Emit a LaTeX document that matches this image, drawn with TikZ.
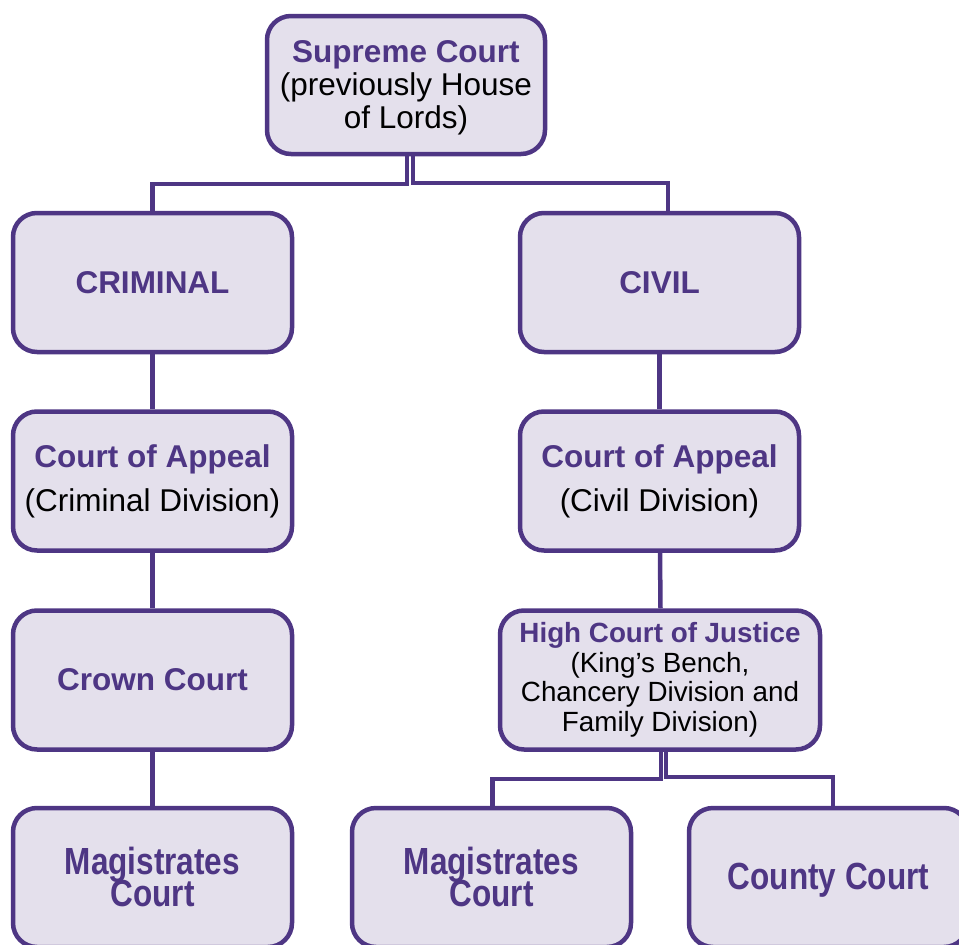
\documentclass[tikz,border=0pt]{standalone}
\usepackage{fontspec}
\setmainfont{Liberation Sans}
\definecolor{pur}{HTML}{4E3684}
\definecolor{lav}{HTML}{E4E0EC}
\begin{document}
\begin{tikzpicture}[x=1pt,y=-1pt,
  box/.style={draw=pur, fill=lav, line width=4.5pt, rounded corners=24pt,
    minimum width=279pt, minimum height=139pt, inner sep=0pt, align=center,
    font=\fontsize{31.5}{33}\selectfont},
  txt/.style={inner sep=0pt, align=center, font=\fontsize{31.5}{33}\selectfont},
  conn/.style={draw=pur, line width=4.5pt}]
\useasboundingbox (0,0) rectangle (959,945);
\clip (0,0) rectangle (959,945);
\newcommand{\hdt}[1]{{\color{pur}\bfseries #1}}
\newcommand{\tall}[1]{\scalebox{1}[1.2]{\color{pur}\bfseries\fontsize{31.5}{26}\selectfont\begin{tabular}{@{}c@{}}#1\end{tabular}}}

\node[box, minimum width=278pt, minimum height=138pt] (sup) at (406,85) {};
\node[txt] (supt) at (406,88) {\hdt{Supreme Court}\\(previously House\\of Lords)};
\node[box] (crim) at (152.5,282.5) {\hdt{CRIMINAL}};
\node[box] (civ) at (659.5,282.5) {\hdt{CIVIL}};
\node[box, font=\fontsize{31.5}{44}\selectfont] (caCrim) at (152.5,481) {\hdt{Court of Appeal}\\(Criminal Division)};
\node[box, font=\fontsize{31.5}{44}\selectfont] (caCiv) at (659.5,481) {\hdt{Court of Appeal}\\(Civil Division)};
\node[box] (crown) at (152.5,680) {\hdt{Crown Court}};
\node[box, minimum width=320pt, font=\fontsize{27.8}{29.5}\selectfont] (high) at (660,680)
  {\hdt{High Court of Justice}\\(King’s Bench,\\Chancery Division and\\Family Division)};
\node[box] (magL) at (152.5,877.5) {};
\node[txt] (magLt) at (152.5,881.5) {\tall{Magistrates\\[-3.5pt]Court}};
\node[box] (magM) at (491.5,877.5) {};
\node[txt] (magMt) at (491.5,881.5) {\tall{Magistrates\\[-3.5pt]Court}};
\node[box] (cty) at (828.5,877.5) {};
\node[txt] (ctyt) at (828.5,881) {\tall{County Court}};

\draw[conn] ([xshift=1pt]sup.south) |- ([yshift=27pt]crim.north) -- (crim.north);
\draw[conn] ([xshift=7pt]sup.south) |- ([yshift=28pt,xshift=8.5pt]civ.north) -- ([xshift=8.5pt]civ.north);
\draw[conn] (crim) -- (caCrim);
\draw[conn] (caCrim) -- (crown);
\draw[conn] (crown) -- (magL);
\draw[conn] (civ) -- (caCiv);
\draw[conn] ([xshift=0.5pt]caCiv.south) -- ([xshift=0.5pt]high.north);
\draw[conn] ([xshift=1pt]high.south) |- ([yshift=27pt,xshift=1pt]magM.north) -- ([xshift=1pt]magM.north);
\draw[conn] ([xshift=6pt]high.south) |- ([yshift=29pt,xshift=4.5pt]cty.north) -- ([xshift=4.5pt]cty.north);
\end{tikzpicture}
\end{document}
